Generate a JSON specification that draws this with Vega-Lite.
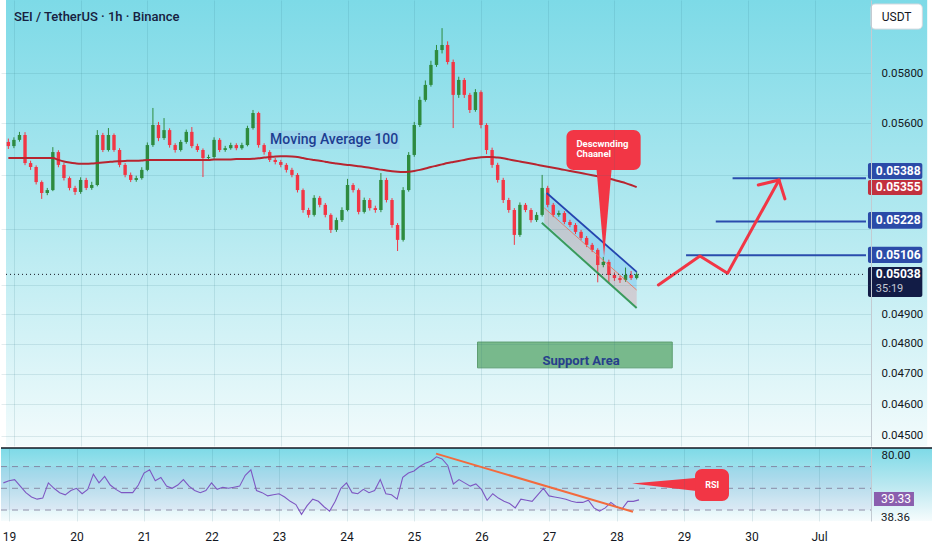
{
  "$schema": "https://vega.github.io/schema/vega-lite/v6.json",
  "padding": 0,
  "background": "#ffffff",
  "spacing": 1,
  "config": {
    "font": "Roboto",
    "view": {"stroke": null},
    "axis": {"labelFont": "Roboto", "labelFontSize": 11.5, "labelColor": "#131722", "gridColor": "#2a6b7a", "gridOpacity": 0.13}
  },
  "resolve": {"scale": {"x": "independent", "y": "independent", "color": "independent"}},
  "datasets": {
    "candles": [
      {"time":"2024-06-18T22:00","open":0.05527,"high":0.0554,"low":0.055,"close":0.05511,"ma":0.05465,"rsi":55},
      {"time":"2024-06-19T00:00","open":0.05511,"high":0.05545,"low":0.05503,"close":0.05535,"ma":0.05465,"rsi":57},
      {"time":"2024-06-19T02:00","open":0.05535,"high":0.05566,"low":0.05528,"close":0.05554,"ma":0.05465,"rsi":58},
      {"time":"2024-06-19T04:00","open":0.05554,"high":0.05565,"low":0.05438,"close":0.05446,"ma":0.05465,"rsi":52},
      {"time":"2024-06-19T06:00","open":0.05446,"high":0.05455,"low":0.0542,"close":0.05431,"ma":0.05465,"rsi":46},
      {"time":"2024-06-19T08:00","open":0.05431,"high":0.05437,"low":0.05365,"close":0.05374,"ma":0.05465,"rsi":42},
      {"time":"2024-06-19T10:00","open":0.05374,"high":0.0538,"low":0.05311,"close":0.05333,"ma":0.05465,"rsi":40},
      {"time":"2024-06-19T12:00","open":0.05333,"high":0.05352,"low":0.05325,"close":0.05344,"ma":0.05465,"rsi":41},
      {"time":"2024-06-19T14:00","open":0.05344,"high":0.05507,"low":0.0534,"close":0.05488,"ma":0.05465,"rsi":55},
      {"time":"2024-06-19T16:00","open":0.05488,"high":0.05495,"low":0.0543,"close":0.05439,"ma":0.05458,"rsi":50},
      {"time":"2024-06-19T18:00","open":0.05439,"high":0.05446,"low":0.0538,"close":0.05389,"ma":0.05452,"rsi":46},
      {"time":"2024-06-19T20:00","open":0.05389,"high":0.05395,"low":0.05343,"close":0.05352,"ma":0.05448,"rsi":44},
      {"time":"2024-06-19T22:00","open":0.05352,"high":0.0536,"low":0.05326,"close":0.05337,"ma":0.05445,"rsi":48},
      {"time":"2024-06-20T00:00","open":0.05337,"high":0.05392,"low":0.0533,"close":0.05382,"ma":0.05443,"rsi":50},
      {"time":"2024-06-20T02:00","open":0.05382,"high":0.0539,"low":0.05344,"close":0.05352,"ma":0.05443,"rsi":45},
      {"time":"2024-06-20T04:00","open":0.05352,"high":0.05375,"low":0.05345,"close":0.05363,"ma":0.05444,"rsi":49},
      {"time":"2024-06-20T06:00","open":0.05363,"high":0.05573,"low":0.05358,"close":0.05554,"ma":0.05446,"rsi":63},
      {"time":"2024-06-20T08:00","open":0.05554,"high":0.05562,"low":0.05488,"close":0.05496,"ma":0.05448,"rsi":55},
      {"time":"2024-06-20T10:00","open":0.05496,"high":0.05581,"low":0.0549,"close":0.05554,"ma":0.0545,"rsi":61},
      {"time":"2024-06-20T12:00","open":0.05554,"high":0.0556,"low":0.05489,"close":0.05496,"ma":0.05452,"rsi":53},
      {"time":"2024-06-20T14:00","open":0.05496,"high":0.05503,"low":0.0543,"close":0.05439,"ma":0.05453,"rsi":49},
      {"time":"2024-06-20T16:00","open":0.05439,"high":0.05446,"low":0.05392,"close":0.05401,"ma":0.05454,"rsi":46},
      {"time":"2024-06-20T18:00","open":0.05401,"high":0.0541,"low":0.05374,"close":0.05382,"ma":0.05455,"rsi":46},
      {"time":"2024-06-20T20:00","open":0.05382,"high":0.05398,"low":0.05375,"close":0.05389,"ma":0.05455,"rsi":46},
      {"time":"2024-06-20T22:00","open":0.05389,"high":0.0543,"low":0.05383,"close":0.0542,"ma":0.05456,"rsi":53},
      {"time":"2024-06-21T00:00","open":0.0542,"high":0.05525,"low":0.05415,"close":0.05515,"ma":0.05458,"rsi":64},
      {"time":"2024-06-21T02:00","open":0.05515,"high":0.0566,"low":0.05508,"close":0.05593,"ma":0.05458,"rsi":67},
      {"time":"2024-06-21T04:00","open":0.05593,"high":0.05605,"low":0.0553,"close":0.05542,"ma":0.05458,"rsi":57},
      {"time":"2024-06-21T06:00","open":0.05542,"high":0.0562,"low":0.05535,"close":0.05573,"ma":0.05458,"rsi":60},
      {"time":"2024-06-21T08:00","open":0.05573,"high":0.0558,"low":0.05505,"close":0.05515,"ma":0.05458,"rsi":52},
      {"time":"2024-06-21T10:00","open":0.05515,"high":0.05522,"low":0.05486,"close":0.05496,"ma":0.05458,"rsi":50},
      {"time":"2024-06-21T12:00","open":0.05496,"high":0.05535,"low":0.0549,"close":0.05527,"ma":0.05458,"rsi":53},
      {"time":"2024-06-21T14:00","open":0.05527,"high":0.05575,"low":0.0552,"close":0.05566,"ma":0.05458,"rsi":58},
      {"time":"2024-06-21T16:00","open":0.05566,"high":0.05585,"low":0.05503,"close":0.05511,"ma":0.05458,"rsi":52},
      {"time":"2024-06-21T18:00","open":0.05511,"high":0.0552,"low":0.05488,"close":0.05496,"ma":0.05458,"rsi":48},
      {"time":"2024-06-21T20:00","open":0.05496,"high":0.05502,"low":0.05393,"close":0.05465,"ma":0.05458,"rsi":46},
      {"time":"2024-06-21T22:00","open":0.05465,"high":0.05478,"low":0.05455,"close":0.05469,"ma":0.05458,"rsi":48},
      {"time":"2024-06-22T00:00","open":0.05469,"high":0.05545,"low":0.05462,"close":0.05535,"ma":0.0546,"rsi":55},
      {"time":"2024-06-22T02:00","open":0.05535,"high":0.05542,"low":0.05488,"close":0.05496,"ma":0.0546,"rsi":49},
      {"time":"2024-06-22T04:00","open":0.05496,"high":0.05512,"low":0.05489,"close":0.05503,"ma":0.0546,"rsi":51},
      {"time":"2024-06-22T06:00","open":0.05503,"high":0.05524,"low":0.05497,"close":0.05515,"ma":0.0546,"rsi":50},
      {"time":"2024-06-22T08:00","open":0.05515,"high":0.05522,"low":0.05495,"close":0.05503,"ma":0.05461,"rsi":51},
      {"time":"2024-06-22T10:00","open":0.05503,"high":0.05524,"low":0.05497,"close":0.05515,"ma":0.05461,"rsi":52},
      {"time":"2024-06-22T12:00","open":0.05515,"high":0.0559,"low":0.0551,"close":0.05581,"ma":0.05461,"rsi":62},
      {"time":"2024-06-22T14:00","open":0.05581,"high":0.05652,"low":0.05575,"close":0.0564,"ma":0.05462,"rsi":67},
      {"time":"2024-06-22T16:00","open":0.0564,"high":0.05645,"low":0.05505,"close":0.05515,"ma":0.05464,"rsi":48},
      {"time":"2024-06-22T18:00","open":0.05515,"high":0.05522,"low":0.05478,"close":0.05488,"ma":0.05467,"rsi":46},
      {"time":"2024-06-22T20:00","open":0.05488,"high":0.05495,"low":0.0545,"close":0.05458,"ma":0.05469,"rsi":43},
      {"time":"2024-06-22T22:00","open":0.05458,"high":0.05466,"low":0.05441,"close":0.0545,"ma":0.05471,"rsi":44},
      {"time":"2024-06-23T00:00","open":0.0545,"high":0.05458,"low":0.0543,"close":0.05439,"ma":0.05472,"rsi":45},
      {"time":"2024-06-23T02:00","open":0.05439,"high":0.05446,"low":0.0541,"close":0.0542,"ma":0.05472,"rsi":42},
      {"time":"2024-06-23T04:00","open":0.0542,"high":0.05428,"low":0.05392,"close":0.05401,"ma":0.05471,"rsi":38},
      {"time":"2024-06-23T06:00","open":0.05401,"high":0.05408,"low":0.05335,"close":0.05344,"ma":0.05469,"rsi":35},
      {"time":"2024-06-23T08:00","open":0.05344,"high":0.0535,"low":0.0526,"close":0.0527,"ma":0.05465,"rsi":26},
      {"time":"2024-06-23T10:00","open":0.0527,"high":0.05278,"low":0.05242,"close":0.05252,"ma":0.05461,"rsi":34},
      {"time":"2024-06-23T12:00","open":0.05252,"high":0.05325,"low":0.05246,"close":0.05315,"ma":0.05458,"rsi":40},
      {"time":"2024-06-23T14:00","open":0.05315,"high":0.05322,"low":0.0528,"close":0.05289,"ma":0.05455,"rsi":38},
      {"time":"2024-06-23T16:00","open":0.05289,"high":0.05296,"low":0.05243,"close":0.05252,"ma":0.05451,"rsi":33},
      {"time":"2024-06-23T18:00","open":0.05252,"high":0.05258,"low":0.05186,"close":0.05197,"ma":0.05447,"rsi":29},
      {"time":"2024-06-23T20:00","open":0.05197,"high":0.05242,"low":0.0519,"close":0.05233,"ma":0.05444,"rsi":38},
      {"time":"2024-06-23T22:00","open":0.05233,"high":0.0528,"low":0.05226,"close":0.0527,"ma":0.05441,"rsi":50},
      {"time":"2024-06-24T00:00","open":0.0527,"high":0.05386,"low":0.05265,"close":0.05363,"ma":0.05439,"rsi":55},
      {"time":"2024-06-24T02:00","open":0.05363,"high":0.0537,"low":0.05335,"close":0.05344,"ma":0.05437,"rsi":46},
      {"time":"2024-06-24T04:00","open":0.05344,"high":0.0535,"low":0.05254,"close":0.05263,"ma":0.05434,"rsi":45},
      {"time":"2024-06-24T06:00","open":0.05263,"high":0.05316,"low":0.05257,"close":0.05307,"ma":0.05431,"rsi":49},
      {"time":"2024-06-24T08:00","open":0.05307,"high":0.05314,"low":0.05268,"close":0.05277,"ma":0.05428,"rsi":46},
      {"time":"2024-06-24T10:00","open":0.05277,"high":0.05286,"low":0.0526,"close":0.0527,"ma":0.05424,"rsi":48},
      {"time":"2024-06-24T12:00","open":0.0527,"high":0.05408,"low":0.05262,"close":0.05382,"ma":0.05421,"rsi":58},
      {"time":"2024-06-24T14:00","open":0.05382,"high":0.0539,"low":0.05298,"close":0.05307,"ma":0.05418,"rsi":45},
      {"time":"2024-06-24T16:00","open":0.05307,"high":0.05314,"low":0.05205,"close":0.05215,"ma":0.05415,"rsi":44},
      {"time":"2024-06-24T18:00","open":0.05215,"high":0.05222,"low":0.05121,"close":0.05161,"ma":0.05413,"rsi":40},
      {"time":"2024-06-24T20:00","open":0.05161,"high":0.05355,"low":0.05155,"close":0.05344,"ma":0.05412,"rsi":60},
      {"time":"2024-06-24T22:00","open":0.05344,"high":0.05488,"low":0.05338,"close":0.05477,"ma":0.05413,"rsi":64},
      {"time":"2024-06-25T00:00","open":0.05477,"high":0.05605,"low":0.0547,"close":0.05593,"ma":0.05416,"rsi":66},
      {"time":"2024-06-25T02:00","open":0.05593,"high":0.05705,"low":0.05585,"close":0.05692,"ma":0.0542,"rsi":70},
      {"time":"2024-06-25T04:00","open":0.05692,"high":0.0577,"low":0.05685,"close":0.05752,"ma":0.05425,"rsi":73},
      {"time":"2024-06-25T06:00","open":0.05752,"high":0.0585,"low":0.05745,"close":0.05833,"ma":0.05431,"rsi":75},
      {"time":"2024-06-25T08:00","open":0.05833,"high":0.05915,"low":0.05825,"close":0.05894,"ma":0.05436,"rsi":79},
      {"time":"2024-06-25T10:00","open":0.05894,"high":0.05985,"low":0.0588,"close":0.05915,"ma":0.05441,"rsi":77},
      {"time":"2024-06-25T12:00","open":0.05915,"high":0.0593,"low":0.05835,"close":0.05845,"ma":0.05446,"rsi":71},
      {"time":"2024-06-25T14:00","open":0.05845,"high":0.05855,"low":0.05581,"close":0.05712,"ma":0.0545,"rsi":54},
      {"time":"2024-06-25T16:00","open":0.05712,"high":0.05785,"low":0.057,"close":0.05772,"ma":0.05454,"rsi":58},
      {"time":"2024-06-25T18:00","open":0.05772,"high":0.0578,"low":0.057,"close":0.05712,"ma":0.05458,"rsi":55},
      {"time":"2024-06-25T20:00","open":0.05712,"high":0.0572,"low":0.0564,"close":0.05652,"ma":0.05462,"rsi":52},
      {"time":"2024-06-25T22:00","open":0.05652,"high":0.05735,"low":0.05645,"close":0.05723,"ma":0.05465,"rsi":54},
      {"time":"2024-06-26T00:00","open":0.05723,"high":0.0573,"low":0.0558,"close":0.05593,"ma":0.05468,"rsi":49},
      {"time":"2024-06-26T02:00","open":0.05593,"high":0.056,"low":0.0548,"close":0.05496,"ma":0.05469,"rsi":39},
      {"time":"2024-06-26T04:00","open":0.05496,"high":0.05505,"low":0.05428,"close":0.05439,"ma":0.05469,"rsi":45},
      {"time":"2024-06-26T06:00","open":0.05439,"high":0.05447,"low":0.05372,"close":0.05382,"ma":0.05467,"rsi":41},
      {"time":"2024-06-26T08:00","open":0.05382,"high":0.0539,"low":0.05296,"close":0.05307,"ma":0.05464,"rsi":38},
      {"time":"2024-06-26T10:00","open":0.05307,"high":0.05315,"low":0.0526,"close":0.0527,"ma":0.0546,"rsi":36},
      {"time":"2024-06-26T12:00","open":0.0527,"high":0.05277,"low":0.05143,"close":0.05179,"ma":0.05456,"rsi":32},
      {"time":"2024-06-26T14:00","open":0.05179,"high":0.05298,"low":0.05172,"close":0.05289,"ma":0.05452,"rsi":40},
      {"time":"2024-06-26T16:00","open":0.05289,"high":0.05296,"low":0.05262,"close":0.0527,"ma":0.05448,"rsi":39},
      {"time":"2024-06-26T18:00","open":0.0527,"high":0.05277,"low":0.05224,"close":0.05233,"ma":0.05444,"rsi":38},
      {"time":"2024-06-26T20:00","open":0.05233,"high":0.05262,"low":0.05226,"close":0.05252,"ma":0.0544,"rsi":44},
      {"time":"2024-06-26T22:00","open":0.05252,"high":0.05401,"low":0.05246,"close":0.05352,"ma":0.05436,"rsi":50},
      {"time":"2024-06-27T00:00","open":0.05352,"high":0.0536,"low":0.0528,"close":0.05289,"ma":0.05432,"rsi":43},
      {"time":"2024-06-27T02:00","open":0.05289,"high":0.05296,"low":0.05244,"close":0.05252,"ma":0.05428,"rsi":42},
      {"time":"2024-06-27T04:00","open":0.05252,"high":0.05268,"low":0.05245,"close":0.05259,"ma":0.05424,"rsi":41},
      {"time":"2024-06-27T06:00","open":0.05259,"high":0.05266,"low":0.05218,"close":0.05226,"ma":0.0542,"rsi":40},
      {"time":"2024-06-27T08:00","open":0.05226,"high":0.05234,"low":0.05207,"close":0.05215,"ma":0.05416,"rsi":38},
      {"time":"2024-06-27T10:00","open":0.05215,"high":0.05222,"low":0.05182,"close":0.0519,"ma":0.05412,"rsi":37},
      {"time":"2024-06-27T12:00","open":0.0519,"high":0.05197,"low":0.0516,"close":0.05168,"ma":0.05408,"rsi":37},
      {"time":"2024-06-27T14:00","open":0.05168,"high":0.05175,"low":0.05135,"close":0.05143,"ma":0.05404,"rsi":39},
      {"time":"2024-06-27T16:00","open":0.05143,"high":0.0515,"low":0.05117,"close":0.05125,"ma":0.054,"rsi":32},
      {"time":"2024-06-27T18:00","open":0.05125,"high":0.05131,"low":0.0501,"close":0.05071,"ma":0.05396,"rsi":29},
      {"time":"2024-06-27T20:00","open":0.05071,"high":0.051,"low":0.05063,"close":0.05082,"ma":0.05392,"rsi":32},
      {"time":"2024-06-27T22:00","open":0.05082,"high":0.0509,"low":0.05008,"close":0.05036,"ma":0.05387,"rsi":37},
      {"time":"2024-06-28T00:00","open":0.05036,"high":0.05045,"low":0.05015,"close":0.05025,"ma":0.05382,"rsi":33},
      {"time":"2024-06-28T02:00","open":0.05025,"high":0.05033,"low":0.05008,"close":0.05018,"ma":0.05376,"rsi":31},
      {"time":"2024-06-28T04:00","open":0.05018,"high":0.05062,"low":0.05012,"close":0.05036,"ma":0.0537,"rsi":38},
      {"time":"2024-06-28T06:00","open":0.05036,"high":0.0505,"low":0.05018,"close":0.05025,"ma":0.05363,"rsi":38},
      {"time":"2024-06-28T08:00","open":0.05025,"high":0.05048,"low":0.0502,"close":0.05038,"ma":0.05355,"rsi":39.33}
    ],
    "tags": [
      {"label":"0.05388","kind":"level","time":"2024-07-01T19:12","time2":"2024-07-02T14:45","tx":"2024-07-01T22:02","price":0.05446,"price2":0.05386,"mid":0.05416},
      {"label":"0.05355","kind":"ma","time":"2024-07-01T19:12","time2":"2024-07-02T14:45","tx":"2024-07-01T22:02","price":0.05382,"price2":0.05326,"mid":0.05354},
      {"label":"0.05228","kind":"level","time":"2024-07-01T19:12","time2":"2024-07-02T14:45","tx":"2024-07-01T22:02","price":0.05263,"price2":0.05201,"mid":0.05232},
      {"label":"0.05106","kind":"level","time":"2024-07-01T19:12","time2":"2024-07-02T14:45","tx":"2024-07-01T22:02","price":0.05136,"price2":0.05078,"mid":0.05107},
      {"label":"0.05038","kind":"last","time":"2024-07-01T19:12","time2":"2024-07-02T14:45","tx":"2024-07-01T22:02","price":0.05064,"price2":0.04959,"mid":0.0504}
    ]
  },
  "vconcat": [
    {
      "width": 870,
      "height": 446,
      "encoding": {
        "x": {
          "field": "time", "type": "temporal", "title": null,
          "scale": {"domain": [{"year":2024,"month":6,"date":18,"hours":21,"minutes":9,"seconds":20},{"year":2024,"month":7,"date":1,"hours":18,"minutes":29,"seconds":20}]},
          "axis": {"labels": false, "ticks": false, "domain": false, "grid": true, "tickCount": {"interval": "day", "step": 1}, "zindex": 1}
        }
      },
      "layer": [
        {
          "data": {"values": [{"time":"2024-06-18T21:09:20","time2":"2024-07-02T16:30","price":0.06104,"price2":0.04468}]},
          "mark": {"type": "rect", "fill": {"gradient": "linear", "x1": 0, "y1": 0, "x2": 0, "y2": 1, "stops": [{"offset": 0, "color": "#7ddae7"}, {"offset": 0.5, "color": "#b3e9f0"}, {"offset": 1, "color": "#f2fbfc"}]}},
          "encoding": {
            "x2": {"field": "time2"},
            "y": {"field": "price", "type": "quantitative", "title": null,
              "scale": {"type": "log", "domain": [0.04468, 0.06104], "nice": false, "zero": false},
              "axis": {"orient": "right", "values": [0.045, 0.046, 0.047, 0.048, 0.049, 0.05, 0.052, 0.054, 0.056, 0.058],
                "labelExpr": "datum.value > 0.0495 && datum.value < 0.0545 ? '' : format(datum.value, '.5f')",
                "ticks": false, "domain": true, "domainColor": "#c3cbd2", "grid": true, "labelPadding": 10, "zindex": 1}},
            "y2": {"field": "price2"}
          }
        },
        {
          "data": {"values": [{"time":"2024-06-22T20:05","time2":"2024-06-24T18:40","price":0.0557,"price2":0.055}]},
          "mark": {"type": "rect", "fill": "#9ccbeb", "opacity": 0.6},
          "encoding": {"x2": {"field": "time2"}, "y": {"field": "price", "type": "quantitative", "title": null, "scale": {"type": "log", "domain": [0.04468, 0.06104], "nice": false}}, "y2": {"field": "price2"}}
        },
        {
          "data": {"values": [{"time":"2024-06-25T22:45","time2":"2024-06-28T20:48","price":0.04805,"price2":0.04719}]},
          "mark": {"type": "rect", "fill": "#78b98c", "stroke": "#5e9e72", "strokeWidth": 1},
          "encoding": {"x2": {"field": "time2"}, "y": {"field": "price", "type": "quantitative", "title": null, "scale": {"type": "log", "domain": [0.04468, 0.06104], "nice": false}}, "y2": {"field": "price2"}}
        },
        {
          "data": {"values": [{"time":"2024-06-26T22:45","price":0.05333,"price2":0.05278},{"time":"2024-06-28T08:00","price":0.05047,"price2":0.04983}]},
          "mark": {"type": "area", "color": "#2196f3", "opacity": 0.22},
          "encoding": {"y": {"field": "price", "type": "quantitative", "title": null, "scale": {"type": "log", "domain": [0.04468, 0.06104], "nice": false}}, "y2": {"field": "price2"}}
        },
        {
          "data": {"values": [{"time":"2024-06-26T22:45","price":0.05278,"price2":0.05223},{"time":"2024-06-28T08:00","price":0.04983,"price2":0.04921}]},
          "mark": {"type": "area", "color": "#f23645", "opacity": 0.18},
          "encoding": {"y": {"field": "price", "type": "quantitative", "title": null, "scale": {"type": "log", "domain": [0.04468, 0.06104], "nice": false}}, "y2": {"field": "price2"}}
        },
        {
          "data": {"name": "candles"},
          "mark": {"type": "rule", "strokeWidth": 1},
          "encoding": {
            "y": {"field": "low", "type": "quantitative", "title": null, "scale": {"type": "log", "domain": [0.04468, 0.06104], "nice": false}},
            "y2": {"field": "high"},
            "color": {"condition": {"test": "datum.close >= datum.open", "value": "#2e8b3e"}, "value": "#f23645"}
          }
        },
        {
          "data": {"name": "candles"},
          "mark": {"type": "bar", "size": 3.4},
          "encoding": {
            "y": {"field": "open", "type": "quantitative", "title": null, "scale": {"type": "log", "domain": [0.04468, 0.06104], "nice": false}},
            "y2": {"field": "close"},
            "color": {"condition": {"test": "datum.close >= datum.open", "value": "#2e8b3e"}, "value": "#f23645"}
          }
        },
        {
          "data": {"name": "candles"},
          "mark": {"type": "line", "color": "#b8242f", "strokeWidth": 2, "interpolate": "monotone"},
          "encoding": {"y": {"field": "ma", "type": "quantitative", "title": null, "scale": {"type": "log", "domain": [0.04468, 0.06104], "nice": false}}}
        },
        {
          "data": {"values": [{"time":"2024-06-26T23:38","price":0.05333},{"time":"2024-06-28T08:00","price":0.05047}]},
          "mark": {"type": "line", "color": "#2445b0", "strokeWidth": 1.8},
          "encoding": {"y": {"field": "price", "type": "quantitative", "title": null, "scale": {"type": "log", "domain": [0.04468, 0.06104], "nice": false}}}
        },
        {
          "data": {"values": [{"time":"2024-06-26T22:45","price":0.05278},{"time":"2024-06-28T08:00","price":0.04983}]},
          "mark": {"type": "line", "color": "#f26d50", "strokeWidth": 1, "opacity": 0.8},
          "encoding": {"y": {"field": "price", "type": "quantitative", "title": null, "scale": {"type": "log", "domain": [0.04468, 0.06104], "nice": false}}}
        },
        {
          "data": {"values": [{"time":"2024-06-26T21:52","price":0.05223},{"time":"2024-06-28T08:00","price":0.04921}]},
          "mark": {"type": "line", "color": "#3a9a5c", "strokeWidth": 2},
          "encoding": {"y": {"field": "price", "type": "quantitative", "title": null, "scale": {"type": "log", "domain": [0.04468, 0.06104], "nice": false}}}
        },
        {
          "data": {"values": [{"time":"2024-06-23T19:12","price":0.05535,"label":"Moving Average 100"}]},
          "mark": {"type": "text", "fontSize": 14, "fontWeight": 500, "color": "#1d3d91"},
          "encoding": {"y": {"field": "price", "type": "quantitative", "title": null, "scale": {"type": "log", "domain": [0.04468, 0.06104], "nice": false}}, "text": {"field": "label"}}
        },
        {
          "data": {"values": [{"time":"2024-06-27T12:00","price":0.04742,"label":"Support Area"}]},
          "mark": {"type": "text", "fontSize": 13, "fontWeight": "bold", "color": "#27408b"},
          "encoding": {"y": {"field": "price", "type": "quantitative", "title": null, "scale": {"type": "log", "domain": [0.04468, 0.06104], "nice": false}}, "text": {"field": "label"}}
        },
        {
          "data": {"values": [{"time":"2024-06-27T17:25","time2":"2024-06-27T23:07","price":0.0544},{"time":"2024-06-27T20:16","time2":"2024-06-27T20:16","price":0.051}]},
          "mark": {"type": "area", "orient": "horizontal", "color": "#f23645"},
          "encoding": {"x2": {"field": "time2"}, "y": {"field": "price", "type": "quantitative", "title": null, "scale": {"type": "log", "domain": [0.04468, 0.06104], "nice": false}}}
        },
        {
          "data": {"values": [{"time":"2024-06-27T06:45","time2":"2024-06-28T09:26","price":0.05573,"price2":0.0542}]},
          "mark": {"type": "rect", "fill": "#f23645", "cornerRadius": 7},
          "encoding": {"x2": {"field": "time2"}, "y": {"field": "price", "type": "quantitative", "title": null, "scale": {"type": "log", "domain": [0.04468, 0.06104], "nice": false}}, "y2": {"field": "price2"}}
        },
        {
          "data": {"values": [{"time":"2024-06-27T10:19","price":0.05519,"label":"Descwnding"},{"time":"2024-06-27T10:19","price":0.05479,"label":"Chaanel"}]},
          "mark": {"type": "text", "align": "left", "fontSize": 9.5, "fontWeight": "bold", "color": "#ffffff"},
          "encoding": {"y": {"field": "price", "type": "quantitative", "title": null, "scale": {"type": "log", "domain": [0.04468, 0.06104], "nice": false}}, "text": {"field": "label"}}
        },
        {
          "data": {"values": [
            {"time":"2024-06-29T01:46","time2":"2024-07-01T18:29","price":0.05106},
            {"time":"2024-06-29T12:27","time2":"2024-07-01T18:29","price":0.05228},
            {"time":"2024-06-29T18:30","time2":"2024-07-01T18:29","price":0.05388}
          ]},
          "mark": {"type": "rule", "color": "#2a4cad", "strokeWidth": 2},
          "encoding": {"x2": {"field": "time2"}, "y": {"field": "price", "type": "quantitative", "title": null, "scale": {"type": "log", "domain": [0.04468, 0.06104], "nice": false}}}
        },
        {
          "data": {"values": [
            {"part":"path","seq":1,"time":"2024-06-28T15:49","price":0.05001},
            {"part":"path","seq":2,"time":"2024-06-29T06:45","price":0.05103},
            {"part":"path","seq":3,"time":"2024-06-29T16:42","price":0.05042},
            {"part":"path","seq":4,"time":"2024-06-30T11:12","price":0.05382},
            {"part":"head","seq":1,"time":"2024-06-30T03:44","price":0.05363},
            {"part":"head","seq":2,"time":"2024-06-30T11:12","price":0.05382},
            {"part":"head","seq":3,"time":"2024-06-30T13:20","price":0.05311}
          ]},
          "mark": {"type": "line", "color": "#f23645", "strokeWidth": 3, "strokeCap": "round", "strokeJoin": "round"},
          "encoding": {
            "y": {"field": "price", "type": "quantitative", "title": null, "scale": {"type": "log", "domain": [0.04468, 0.06104], "nice": false}},
            "detail": {"field": "part"},
            "order": {"field": "seq"}
          }
        },
        {
          "data": {"values": [{"time":"2024-06-18T21:09:20","time2":"2024-07-01T18:29","price":0.05038}]},
          "mark": {"type": "rule", "color": "#131722", "strokeWidth": 1, "strokeDash": [1, 3]},
          "encoding": {"x2": {"field": "time2"}, "y": {"field": "price", "type": "quantitative", "title": null, "scale": {"type": "log", "domain": [0.04468, 0.06104], "nice": false}}}
        },
        {
          "data": {"values": [{"time":"2024-06-19T00:00","price":0.06032,"label":"SEI / TetherUS · 1h · Binance"}]},
          "mark": {"type": "text", "align": "left", "fontSize": 13, "fontWeight": 500, "color": "#172040"},
          "encoding": {"y": {"field": "price", "type": "quantitative", "title": null, "scale": {"type": "log", "domain": [0.04468, 0.06104], "nice": false}}, "text": {"field": "label"}}
        },
        {
          "data": {"name": "tags"},
          "mark": {"type": "rect", "cornerRadius": 2},
          "encoding": {
            "x2": {"field": "time2"},
            "y": {"field": "price", "type": "quantitative", "title": null, "scale": {"type": "log", "domain": [0.04468, 0.06104], "nice": false}},
            "y2": {"field": "price2"},
            "color": {"field": "kind", "type": "nominal", "legend": null, "scale": {"domain": ["level", "ma", "last"], "range": ["#2b4ba8", "#c2313e", "#121c46"]}}
          }
        },
        {
          "data": {"name": "tags"},
          "mark": {"type": "text", "align": "left", "fontSize": 12, "fontWeight": "bold", "color": "#ffffff"},
          "encoding": {
            "x": {"field": "tx", "type": "temporal", "title": null},
            "y": {"field": "mid", "type": "quantitative", "title": null, "scale": {"type": "log", "domain": [0.04468, 0.06104], "nice": false}},
            "text": {"field": "label"}
          }
        },
        {
          "data": {"values": [{"time":"2024-07-01T22:02","price":0.04988,"label":"35:19"}]},
          "mark": {"type": "text", "align": "left", "fontSize": 11, "color": "#c3c8d4"},
          "encoding": {"y": {"field": "price", "type": "quantitative", "title": null, "scale": {"type": "log", "domain": [0.04468, 0.06104], "nice": false}}, "text": {"field": "label"}}
        },
        {
          "data": {"values": [{"time":"2024-07-01T20:16","time2":"2024-07-02T14:45","price":0.06087,"price2":0.05981}]},
          "mark": {"type": "rect", "fill": "#ffffff", "stroke": "#d3d8de", "strokeWidth": 1, "cornerRadius": 4},
          "encoding": {"x2": {"field": "time2"}, "y": {"field": "price", "type": "quantitative", "title": null, "scale": {"type": "log", "domain": [0.04468, 0.06104], "nice": false}}, "y2": {"field": "price2"}}
        },
        {
          "data": {"values": [{"time":"2024-07-02T05:30","price":0.06032,"label":"USDT"}]},
          "mark": {"type": "text", "fontSize": 12, "color": "#131722"},
          "encoding": {"y": {"field": "price", "type": "quantitative", "title": null, "scale": {"type": "log", "domain": [0.04468, 0.06104], "nice": false}}, "text": {"field": "label"}}
        }
      ]
    },
    {
      "width": 870,
      "height": 73,
      "encoding": {
        "x": {
          "field": "time", "type": "temporal", "title": null,
          "scale": {"domain": [{"year":2024,"month":6,"date":18,"hours":21,"minutes":9,"seconds":20},{"year":2024,"month":7,"date":1,"hours":18,"minutes":29,"seconds":20}]},
          "axis": {"labels": true, "ticks": false, "domain": false, "grid": true, "tickCount": {"interval": "day", "step": 1},
            "labelExpr": "date(datum.value) == 1 ? timeFormat(datum.value, '%b') : timeFormat(datum.value, '%-d')",
            "labelFontSize": 12, "labelPadding": 10, "labelFlush": false, "labelOverlap": false, "zindex": 1}
        }
      },
      "layer": [
        {
          "data": {"values": [{"time":"2024-06-18T21:09:20","time2":"2024-07-02T16:30","rsi":87.1,"rsi2":19.9}]},
          "mark": {"type": "rect", "fill": {"gradient": "linear", "x1": 0, "y1": 0, "x2": 0, "y2": 1, "stops": [{"offset": 0, "color": "#7ddae7"}, {"offset": 0.55, "color": "#bfe9f1"}, {"offset": 1, "color": "#f6fcfd"}]}},
          "encoding": {
            "x2": {"field": "time2"},
            "y": {"field": "rsi", "type": "quantitative", "title": null,
              "scale": {"domain": [19.9, 87.1], "nice": false, "zero": false},
              "axis": {"orient": "right", "values": [80], "format": ".2f", "ticks": false, "grid": false, "domain": true, "domainColor": "#c3cbd2", "labelPadding": 10, "zindex": 1}},
            "y2": {"field": "rsi2"}
          }
        },
        {
          "data": {"values": [{"time":"2024-06-18T21:09:20","time2":"2024-07-01T18:29","rsi":70,"rsi2":30}]},
          "mark": {"type": "rect", "fill": "#7e57c2", "opacity": 0.07},
          "encoding": {"x2": {"field": "time2"}, "y": {"field": "rsi", "type": "quantitative", "title": null, "scale": {"domain": [19.9, 87.1], "nice": false, "zero": false}}, "y2": {"field": "rsi2"}}
        },
        {
          "data": {"values": [
            {"time":"2024-06-18T21:09:20","time2":"2024-07-01T18:29","rsi":70},
            {"time":"2024-06-18T21:09:20","time2":"2024-07-01T18:29","rsi":50},
            {"time":"2024-06-18T21:09:20","time2":"2024-07-01T18:29","rsi":30}
          ]},
          "mark": {"type": "rule", "color": "#7d7795", "strokeWidth": 1, "strokeDash": [6, 5], "opacity": 0.8},
          "encoding": {"x2": {"field": "time2"}, "y": {"field": "rsi", "type": "quantitative", "title": null, "scale": {"domain": [19.9, 87.1], "nice": false, "zero": false}}}
        },
        {
          "data": {"name": "candles"},
          "mark": {"type": "line", "color": "#7e57c2", "strokeWidth": 1.1},
          "encoding": {"y": {"field": "rsi", "type": "quantitative", "title": null, "scale": {"domain": [19.9, 87.1], "nice": false, "zero": false}}}
        },
        {
          "data": {"values": [{"time":"2024-06-25T07:50","rsi":81.9},{"time":"2024-06-28T05:51","rsi":28.4}]},
          "mark": {"type": "line", "color": "#f36a3d", "strokeWidth": 2},
          "encoding": {"y": {"field": "rsi", "type": "quantitative", "title": null, "scale": {"domain": [19.9, 87.1], "nice": false, "zero": false}}}
        },
        {
          "data": {"values": [{"time":"2024-06-28T05:31","rsi":54.5,"rsi2":54.5},{"time":"2024-06-29T06:00","rsi":60,"rsi2":47}]},
          "mark": {"type": "area", "color": "#f23645"},
          "encoding": {"y": {"field": "rsi", "type": "quantitative", "title": null, "scale": {"domain": [19.9, 87.1], "nice": false, "zero": false}}, "y2": {"field": "rsi2"}}
        },
        {
          "data": {"values": [{"time":"2024-06-29T03:55","time2":"2024-06-29T16:00","rsi":67.8,"rsi2":38.3}]},
          "mark": {"type": "rect", "fill": "#f23645", "cornerRadius": 7},
          "encoding": {"x2": {"field": "time2"}, "y": {"field": "rsi", "type": "quantitative", "title": null, "scale": {"domain": [19.9, 87.1], "nice": false, "zero": false}}, "y2": {"field": "rsi2"}}
        },
        {
          "data": {"values": [{"time":"2024-06-29T10:00","rsi":53.5,"label":"RSI"}]},
          "mark": {"type": "text", "fontSize": 9, "fontWeight": "bold", "color": "#ffffff"},
          "encoding": {"y": {"field": "rsi", "type": "quantitative", "title": null, "scale": {"domain": [19.9, 87.1], "nice": false, "zero": false}}, "text": {"field": "label"}}
        },
        {
          "data": {"values": [{"time":"2024-06-18T21:09:20","time2":"2024-07-02T16:30","rsi":87.1}]},
          "mark": {"type": "rule", "color": "#131722", "strokeWidth": 1.5},
          "encoding": {"x2": {"field": "time2"}, "y": {"field": "rsi", "type": "quantitative", "title": null, "scale": {"domain": [19.9, 87.1], "nice": false, "zero": false}}}
        },
        {
          "data": {"values": [{"time":"2024-07-01T19:33","time2":"2024-07-02T09:46","rsi":46.6,"rsi2":33.7}]},
          "mark": {"type": "rect", "fill": "#8a5fae"},
          "encoding": {"x2": {"field": "time2"}, "y": {"field": "rsi", "type": "quantitative", "title": null, "scale": {"domain": [19.9, 87.1], "nice": false, "zero": false}}, "y2": {"field": "rsi2"}}
        },
        {
          "data": {"values": [{"time":"2024-07-01T22:02","rsi":40.1,"label":"39.33"}]},
          "mark": {"type": "text", "align": "left", "fontSize": 12, "color": "#ffffff"},
          "encoding": {"y": {"field": "rsi", "type": "quantitative", "title": null, "scale": {"domain": [19.9, 87.1], "nice": false, "zero": false}}, "text": {"field": "label"}}
        },
        {
          "data": {"values": [{"time":"2024-07-01T22:02","rsi":22.6,"label":"38.36"}]},
          "mark": {"type": "text", "align": "left", "fontSize": 11.5, "color": "#131722"},
          "encoding": {"y": {"field": "rsi", "type": "quantitative", "title": null, "scale": {"domain": [19.9, 87.1], "nice": false, "zero": false}}, "text": {"field": "label"}}
        }
      ]
    }
  ]
}
